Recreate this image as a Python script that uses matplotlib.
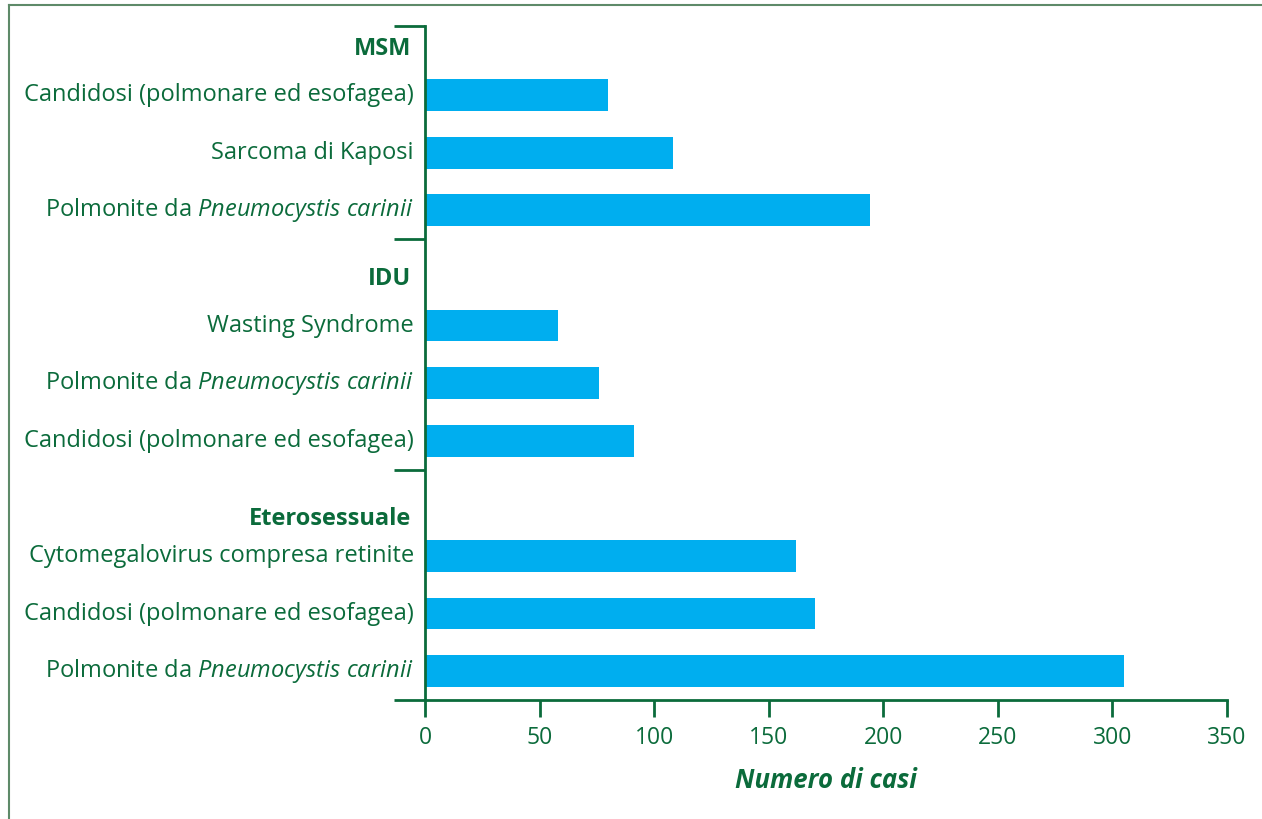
import matplotlib
matplotlib.use("Agg")
from matplotlib import pyplot as plt
from matplotlib.lines import Line2D

# categories (top to bottom) and their values
groups = ["MSM", "IDU", "Eterosessuale"]
labels = [
    ["Candidosi (polmonare ed esofagea)", "Sarcoma di Kaposi",
     r"Polmonite da $\mathit{Pneumocystis\ carinii}$"],
    ["Wasting Syndrome", r"Polmonite da $\mathit{Pneumocystis\ carinii}$",
     "Candidosi (polmonare ed esofagea)"],
    ["Cytomegalovirus compresa retinite", "Candidosi (polmonare ed esofagea)",
     r"Polmonite da $\mathit{Pneumocystis\ carinii}$"],
]
values = [
    [80, 108, 194],
    [58, 76, 91],
    [162, 170, 305],
]
x_ticks = [0, 50, 100, 150, 200, 250, 300, 350]

green = "#0b6b3b"
blue = "#00aeef"

plt.rcParams["font.family"] = ["Open Sans", "DejaVu Sans"]
plt.rcParams["mathtext.fontset"] = "custom"
plt.rcParams["mathtext.rm"] = "Open Sans"
plt.rcParams["mathtext.it"] = "Open Sans:italic"
plt.rcParams["mathtext.bf"] = "Open Sans:bold"

fig = plt.figure(figsize=(12.62, 8.19), dpi=100)
ax = fig.add_axes([0.3368, 0.1453, 0.6355, 0.823])

# bar rows: 3 per group, one empty row for the group header
ypos, vals, labs, heads, seps = [], [], [], [], []
row = 0
for g in range(len(groups)):
    heads.append(row + 0.2 + (0.15 if g == 2 else 0))
    for k in range(3):
        row += 1
        ypos.append(row)
        vals.append(values[g][k])
        labs.append(labels[g][k])
    seps.append(row + 0.5)
    row += 1

ax.barh(ypos, vals, height=0.55, color=blue, zorder=2)
ax.set_ylim(seps[-1], -0.2)
ax.set_xlim(0, 350)

for y, t in zip(ypos, labs):
    ax.annotate(t, (0, y), xytext=(-8, 0), textcoords="offset points",
                ha="right", va="center", color=green, fontsize=17)
for y, g in zip(heads, groups):
    ax.annotate(g, (0, y), xytext=(-10, 0), textcoords="offset points",
                ha="right", va="center", color=green, fontsize=17,
                fontweight="bold")

ax.set_yticks([-0.2] + seps)
ax.set_yticklabels([])
ax.tick_params(axis="y", length=22, width=2, color=green, direction="out")
ax.set_xticks(x_ticks)
ax.set_xticklabels([str(v) for v in x_ticks])
ax.tick_params(axis="x", length=12, width=2, color=green, labelcolor=green,
               labelsize=16.5, pad=7)

for s in ["top", "right"]:
    ax.spines[s].set_visible(False)
for s in ["left", "bottom"]:
    ax.spines[s].set_color(green)
    ax.spines[s].set_linewidth(2)

ax.set_xlabel("Numero di casi", color=green, fontsize=18.5, fontweight="bold",
              fontstyle="italic", labelpad=12)

# outer frame on the left and top
fig.add_artist(Line2D([8.5 / 1262, 8.5 / 1262], [0, 1 - 5 / 819],
                      transform=fig.transFigure, color="#5e8a69", lw=1.5))
fig.add_artist(Line2D([8.5 / 1262, 1], [1 - 5 / 819, 1 - 5 / 819],
                      transform=fig.transFigure, color="#5e8a69", lw=1.5))

fig.savefig("out.png", dpi=100)
